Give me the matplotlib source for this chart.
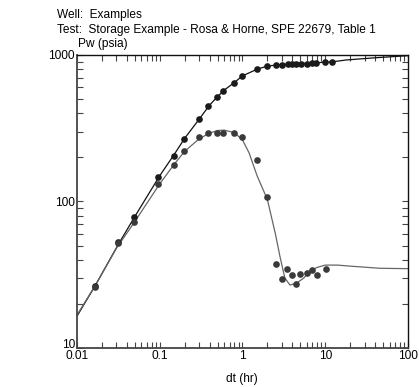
import matplotlib
matplotlib.use("Agg")
import matplotlib.pyplot as plt
import matplotlib.transforms as mtransforms
from matplotlib.ticker import LogLocator, FixedLocator, FixedFormatter, NullFormatter

plt.rcParams['font.family'] = ['Liberation Sans', 'DejaVu Sans']

# measured pressure (upper) and derivative (lower)
p_dt = [0.0165, 0.0316, 0.0493, 0.096, 0.149, 0.195, 0.298, 0.386, 0.495, 0.586,
        0.797, 0.995, 1.51, 2.0, 2.54, 3.03, 3.51, 3.93, 4.47, 5.05, 6.0, 6.92, 7.73,
        10.0, 12.1]
p_pw = [26.5, 53, 78, 147, 206, 267, 366, 451, 519, 570,
        647, 719, 798, 845, 855, 858, 862, 865, 868, 868, 870, 882, 885,
        896, 896]

d_dt = [0.0165, 0.0316, 0.0493, 0.096, 0.147, 0.195, 0.298, 0.386, 0.495, 0.586,
        0.797, 0.995, 1.51, 2.0, 2.52, 3.03, 3.48, 3.96, 4.47, 5.0, 6.07, 6.97, 7.86,
        10.1]
d_pw = [26, 52, 72, 131, 177, 220, 275, 294, 292, 292,
        292, 275, 193, 108, 37.4, 29.4, 34.4, 31.5, 27.5, 32, 32.3, 34.2, 31.5,
        34.4]

# model curves
pm_dt = [0.01, 0.0165, 0.0316, 0.05, 0.1, 0.15, 0.2, 0.3, 0.4, 0.5, 0.6, 0.8, 1.0,
         1.5, 2.0, 3.0, 5.0, 7.0, 10.0, 12.0, 18.0, 38.0, 100.0]
pm_pw = [16.5, 26.5, 51, 79, 150, 210, 270, 365, 455, 520, 575, 650, 720,
         800, 840, 862, 875, 882, 893, 897, 925, 955, 990]

dm_dt = [0.01, 0.0165, 0.03, 0.05, 0.1, 0.15, 0.2, 0.3, 0.4, 0.5, 0.6, 0.8, 1.0,
         1.2, 1.5, 2.0, 2.5, 2.84, 3.25, 3.75, 4.5, 5.5, 6.5, 8.0, 10.0, 14.0,
         20.0, 46.0, 100.0]
dm_pw = [16.8, 26.5, 48, 73, 132, 180, 220, 268, 293, 305, 307, 295, 263,
         215, 150, 103, 60, 42, 30, 26.9, 27.7, 30, 33.5, 35.5, 36.8, 36.8,
         36.2, 35, 34.8]

fig = plt.figure(figsize=(4.19, 3.87), dpi=100)
ax = fig.add_axes([0.1838, 0.1008, 0.7899, 0.7571])

ax.plot(pm_dt, pm_pw, color='#111111', lw=0.9, zorder=2)
ax.plot(dm_dt, dm_pw, color='#666666', lw=0.9, zorder=2)
ax.plot(p_dt, p_pw, 'o', color='#1a1a1a', ms=4.8, mec='none', zorder=3)
ax.plot(d_dt, d_pw, 'o', color='#3a3a3a', ms=4.8, mec='none', zorder=3)

ax.set_xscale('log')
ax.set_yscale('log')
ax.set_xlim(0.01, 100)
ax.set_ylim(10, 1000)

xt = [0.01, 0.1, 1, 10, 100]
ax.xaxis.set_major_locator(FixedLocator(xt))
ax.xaxis.set_major_formatter(FixedFormatter(['0.01', '0.1', '1', '10', '100']))
ax.xaxis.set_minor_locator(LogLocator(base=10, subs=range(2, 10)))
ax.xaxis.set_minor_formatter(NullFormatter())
yt = [10, 100, 1000]
ax.yaxis.set_major_locator(FixedLocator(yt))
ax.yaxis.set_major_formatter(FixedFormatter(['10', '100', '1000']))
ax.yaxis.set_minor_locator(LogLocator(base=10, subs=range(2, 10)))
ax.yaxis.set_minor_formatter(NullFormatter())

ax.tick_params(which='both', direction='in', top=True, right=True, labelsize=8.6,
               color='#444444', width=0.8)
ax.tick_params(which='major', length=4, pad=1.5)
ax.tick_params(which='minor', length=4)

# the bottom y label sits a touch high in the reference
shift = mtransforms.ScaledTranslation(0, 4 / 100, fig.dpi_scale_trans)
for lab in ax.get_yticklabels():
    if lab.get_text() == '10':
        lab.set_transform(lab.get_transform() + shift)

for s in ['left', 'bottom']:
    ax.spines[s].set_color('#444444')
    ax.spines[s].set_linewidth(1.3)
for s in ['top', 'right']:
    ax.spines[s].set_color('#111111')
    ax.spines[s].set_linewidth(1.0)

fig.text(78 / 419, 1 - 47 / 387, 'Pw (psia)', fontsize=8.6, ha='left', va='baseline')
fig.text(242 / 419, 1 - 382 / 387, 'dt (hr)', fontsize=8.6, ha='center', va='baseline')
fig.text(57 / 419, 1 - 18 / 387, 'Well:  Examples', fontsize=8.6, ha='left', va='baseline')
fig.text(57 / 419, 1 - 33 / 387, 'Test:  Storage Example - Rosa & Horne, SPE 22679, Table 1',
         fontsize=8.6, ha='left', va='baseline')

fig.savefig('out.png', dpi=100)
